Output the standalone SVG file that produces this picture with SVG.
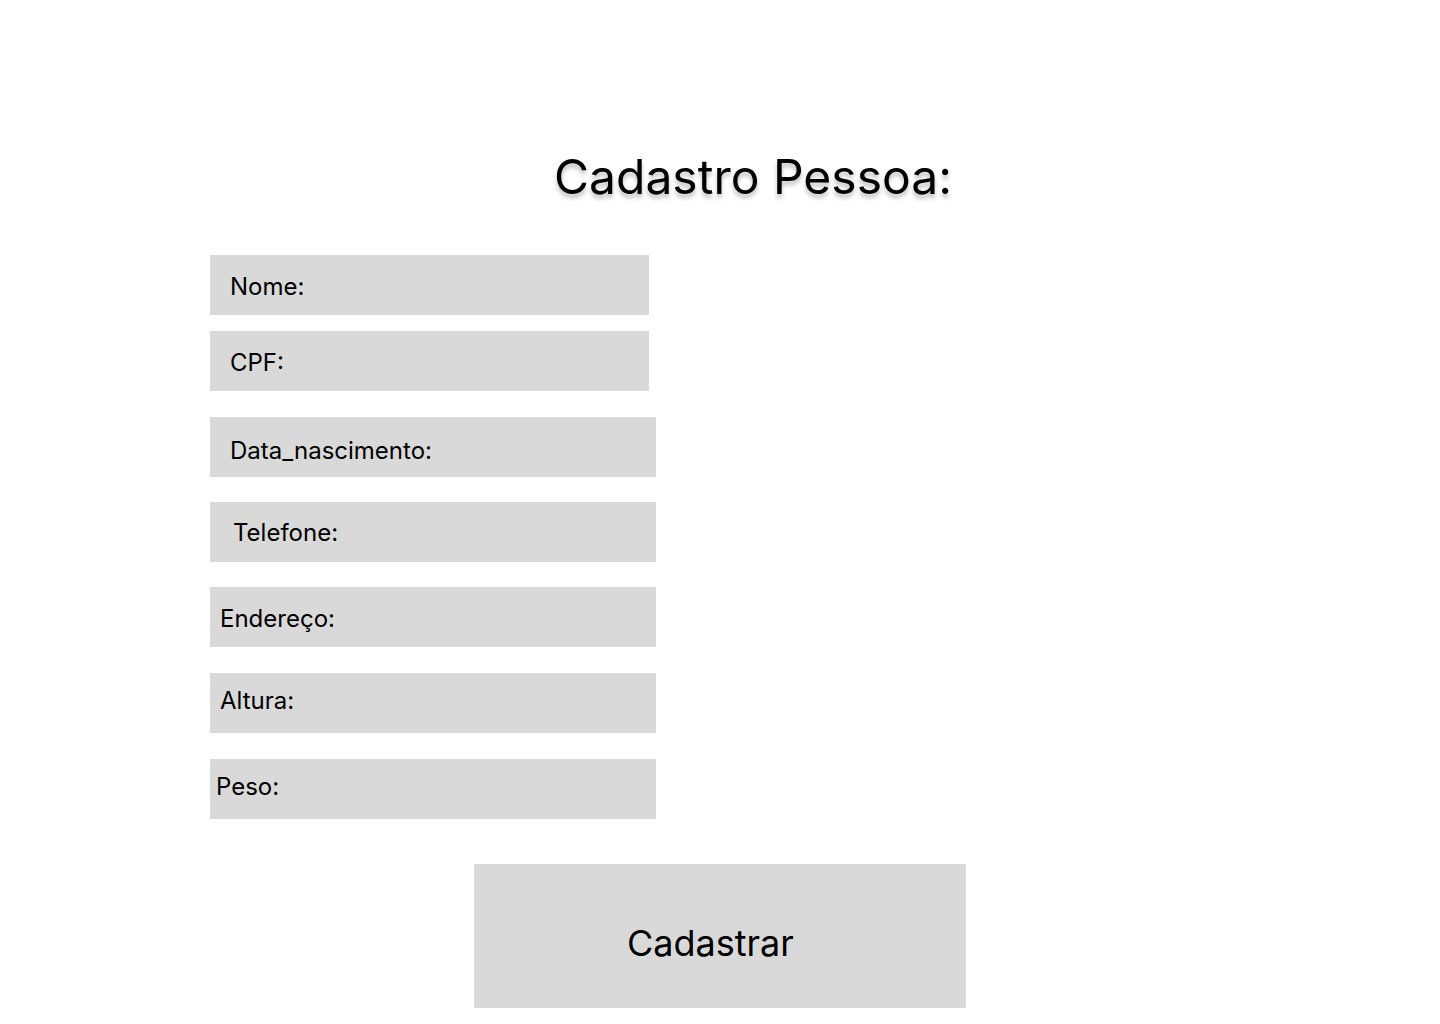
<svg xmlns="http://www.w3.org/2000/svg" width="1440" height="1024" viewBox="0 0 1440 1024">
<style>
.f{fill:#d9d9d9}
.l{font-family:Inter,"Noto Sans",sans-serif;font-size:24px;fill:#000}
</style>
<defs>
<filter id="sh" x="-10%" y="-30%" width="120%" height="160%">
<feDropShadow dx="0" dy="4" stdDeviation="2" flood-color="#000" flood-opacity="0.25"/>
</filter>
</defs>
<rect width="1440" height="1024" fill="#fff"/>
<g id="title"><text x="554" y="194" font-family="Inter,'Noto Sans',sans-serif" font-size="48" filter="url(#sh)">Cadastro Pessoa:</text></g>
<g id="nome"><rect class="f" x="210" y="255" width="439" height="60"/><text class="l" x="230" y="295">Nome:</text></g>
<g id="cpf"><rect class="f" x="210" y="331" width="439" height="60"/><text class="l" x="230" y="371">CPF:</text></g>
<g id="data"><rect class="f" x="210" y="417" width="446" height="60"/><text class="l" x="230" y="459">Data_nascimento:</text></g>
<g id="telefone"><rect class="f" x="210" y="502" width="446" height="60"/><text class="l" x="233" y="541">Telefone:</text></g>
<g id="endereco"><rect class="f" x="210" y="587" width="446" height="60"/><text class="l" x="220" y="627">Endereço:</text></g>
<g id="altura"><rect class="f" x="210" y="673" width="446" height="60"/><text class="l" x="220" y="709">Altura:</text></g>
<g id="peso"><rect class="f" x="210" y="759" width="446" height="60"/><text class="l" x="216" y="795">Peso:</text></g>
<g id="cadastrar"><rect class="f" x="474" y="864" width="492" height="144"/><text x="627" y="956" font-family="Inter,'Noto Sans',sans-serif" font-size="36">Cadastrar</text></g>
<g id="connectors"/>
</svg>
